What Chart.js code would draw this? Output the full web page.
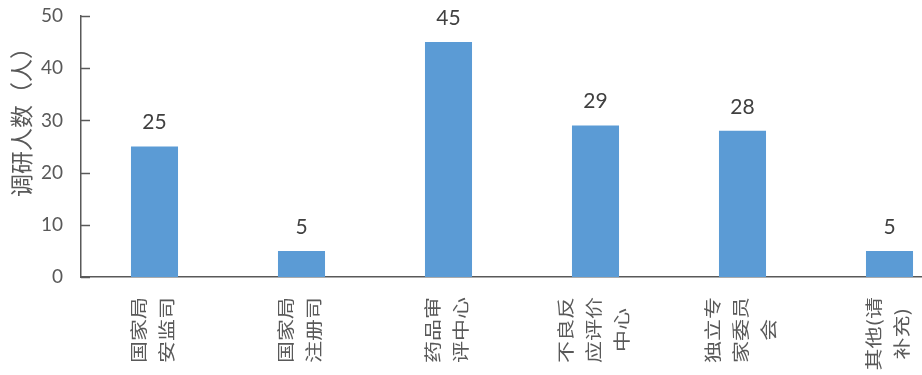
<!DOCTYPE html>
<html>
<head>
<meta charset="utf-8">
<script src="https://cdn.jsdelivr.net/npm/chart.js@4.4.1/dist/chart.umd.min.js"></script>
<style>
  html, body { margin: 0; padding: 0; background: #fff; overflow: hidden; }
  #wrap { width: 966px; height: 375px; position: relative; }
</style>
</head>
<body>
<div id="wrap"><canvas id="chart"></canvas></div>
<script>
// --- DATA ---
const categories = [
  ['国家局', '安监司'],
  ['国家局', '注册司'],
  ['药品审', '评中心'],
  ['不良反', '应评价', '中心'],
  ['独立专', '家委员', '会'],
  ['其他(请', '补充)']
];
const respondents = [25, 5, 45, 29, 28, 5];
const yMin = 0;
const yMax = 50;
const yStep = 10;
const yTitle = '调研人数（人）';

const AXIS = '#595959';
const BAR = '#5b9bd5';
const NUM_FONT = 'Lato, "Open Sans", sans-serif';
const CJK_FONT = '"Noto Sans CJK SC", sans-serif';

// short tick marks pointing into the plot, axis title, bar values, rotated category names
const decorations = {
  id: 'decorations',
  afterDraw(chart) {
    const ctx = chart.ctx;
    const area = chart.chartArea;
    const y = chart.scales.y;
    const x = chart.scales.x;

    ctx.save();
    ctx.strokeStyle = AXIS;
    ctx.lineWidth = 1.5;
    y.ticks.forEach(t => {
      const py = Math.round(y.getPixelForValue(t.value)) + 0.5;
      ctx.beginPath();
      ctx.moveTo(area.left, py);
      ctx.lineTo(area.left + 9, py);
      ctx.stroke();
    });
    ctx.restore();

    // y axis title
    ctx.save();
    ctx.fillStyle = AXIS;
    ctx.font = '23px ' + CJK_FONT;
    ctx.textAlign = 'center';
    ctx.textBaseline = 'middle';
    ctx.translate(21, area.top + (area.bottom - area.top) * 0.385);
    ctx.rotate(-Math.PI / 2);
    ctx.fillText(yTitle, 0, 0);
    ctx.restore();

    // value labels above the bars
    const meta = chart.getDatasetMeta(0);
    ctx.save();
    ctx.fillStyle = '#404040';
    ctx.font = '21px ' + NUM_FONT;
    ctx.textAlign = 'center';
    ctx.textBaseline = 'middle';
    meta.data.forEach((bar, i) => {
      ctx.fillText(String(respondents[i]), bar.x, bar.y - 24);
    });
    ctx.restore();

    // category names, rotated, lines centred on each other (narrow glyphs)
    ctx.save();
    ctx.fillStyle = AXIS;
    ctx.font = '22px ' + CJK_FONT;
    ctx.textBaseline = 'middle';
    ctx.textAlign = 'center';
    const lineH = 28;
    categories.forEach((lines, i) => {
      const cx = x.getPixelForValue(i) - 2;
      const top = area.bottom + 20;
      const w = Math.max(...lines.map(l => ctx.measureText(l).width));
      ctx.save();
      ctx.translate(cx, top);
      ctx.scale(0.8, 1);
      ctx.rotate(-Math.PI / 2);
      lines.forEach((l, k) => {
        ctx.fillText(l, -w / 2, (k - (lines.length - 1) / 2) * lineH / 0.8);
      });
      ctx.restore();
    });
    ctx.restore();
  }
};

new Chart(document.getElementById('chart'), {
  type: 'bar',
  data: {
    labels: categories,
    datasets: [{
      data: respondents,
      backgroundColor: BAR,
      borderWidth: 0,
      categoryPercentage: 1,
      barPercentage: 0.32
    }]
  },
  options: {
    responsive: true,
    maintainAspectRatio: false,
    animation: false,
    layout: { padding: { top: 16, right: 3, bottom: 0, left: 0 } },
    plugins: { legend: { display: false }, tooltip: { enabled: false } },
    scales: {
      x: {
        grid: { display: false, drawTicks: false },
        border: { display: true, color: AXIS, width: 1.5 },
        ticks: { display: false },
        afterFit(s) { s.height = 98; s.paddingLeft = 0; s.paddingRight = 0; }
      },
      y: {
        min: yMin,
        max: yMax,
        grid: { display: false, drawTicks: false },
        border: { display: true, color: AXIS, width: 1.5 },
        ticks: {
          stepSize: yStep,
          padding: 18,
          color: AXIS,
          font: { family: NUM_FONT, size: 19 }
        },
        afterFit(s) { s.width = 81; s.paddingTop = 0; s.paddingBottom = 0; }
      }
    }
  },
  plugins: [decorations]
});
</script>
</body>
</html>
